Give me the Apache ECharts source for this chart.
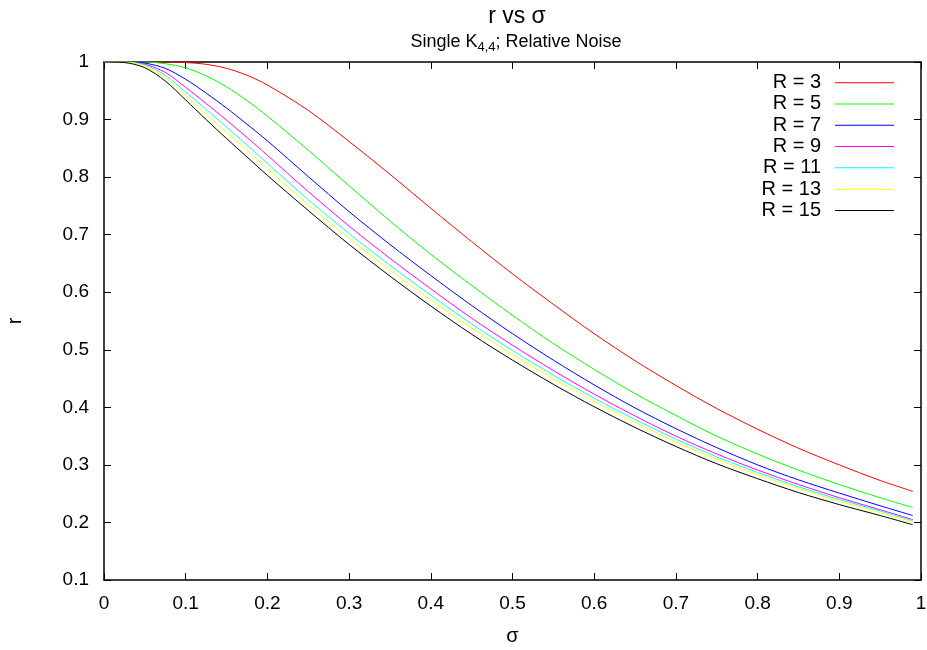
<!DOCTYPE html>
<html>
<head>
<meta charset="utf-8">
<script src="https://cdn.jsdelivr.net/npm/echarts@6/dist/echarts.min.js"></script>
<style>
html,body{margin:0;padding:0;background:#fff;}
#chart{width:927px;height:650px;}
</style>
</head>
<body>
<div id="chart"></div>
<script>
const sigma = [0, 0.025, 0.05, 0.075, 0.1, 0.125, 0.15, 0.175, 0.2, 0.25, 0.3, 0.35, 0.4, 0.45, 0.5, 0.55, 0.6, 0.65, 0.7, 0.75, 0.8, 0.85, 0.9, 0.95, 0.99];
const r3  = [1, 1, 1, 1, 0.999, 0.996, 0.989, 0.977, 0.960, 0.916, 0.862, 0.805, 0.746, 0.688, 0.632, 0.579, 0.528, 0.481, 0.438, 0.398, 0.362, 0.329, 0.300, 0.273, 0.254];
const r5  = [1, 1, 1, 0.997, 0.990, 0.976, 0.957, 0.933, 0.906, 0.847, 0.785, 0.724, 0.666, 0.612, 0.560, 0.511, 0.466, 0.424, 0.386, 0.350, 0.319, 0.291, 0.266, 0.243, 0.226];
const r7  = [1, 1, 0.998, 0.989, 0.970, 0.946, 0.920, 0.892, 0.863, 0.801, 0.740, 0.683, 0.629, 0.577, 0.528, 0.482, 0.439, 0.399, 0.363, 0.330, 0.300, 0.274, 0.251, 0.229, 0.212];
const r9  = [1, 1, 0.996, 0.982, 0.956, 0.928, 0.899, 0.869, 0.838, 0.775, 0.715, 0.659, 0.606, 0.555, 0.508, 0.464, 0.423, 0.385, 0.350, 0.319, 0.291, 0.266, 0.243, 0.222, 0.205];
const r11 = [1, 1, 0.995, 0.977, 0.948, 0.918, 0.887, 0.856, 0.824, 0.761, 0.702, 0.647, 0.595, 0.545, 0.499, 0.456, 0.416, 0.379, 0.345, 0.314, 0.287, 0.262, 0.240, 0.220, 0.203];
const r13 = [1, 1, 0.993, 0.973, 0.942, 0.910, 0.878, 0.847, 0.815, 0.752, 0.694, 0.639, 0.587, 0.538, 0.492, 0.450, 0.411, 0.374, 0.340, 0.310, 0.283, 0.259, 0.237, 0.217, 0.201];
const r15 = [1, 0.999, 0.990, 0.967, 0.934, 0.900, 0.867, 0.835, 0.803, 0.742, 0.683, 0.628, 0.576, 0.527, 0.482, 0.440, 0.401, 0.365, 0.332, 0.302, 0.276, 0.252, 0.231, 0.212, 0.196];
const seriesNames = ['R = 3', 'R = 5', 'R = 7', 'R = 9', 'R = 11', 'R = 13', 'R = 15'];
const seriesColors = ['#ff0000', '#00ff00', '#0000ff', '#ff00ff', '#00ffff', '#ffff00', '#000000'];
const seriesValues = [r3, r5, r7, r9, r11, r13, r15];

const FONT = '"Liberation Sans", Arial, Helvetica, sans-serif';
const chart = echarts.init(document.getElementById('chart'), null, {renderer: 'canvas'});

function axisBase(extra) {
  return Object.assign({
    type: 'value',
    axisLine: {show: true, onZero: false, lineStyle: {color: '#000', width: 1.5}},
    axisTick: {show: true, inside: true, length: 7, lineStyle: {color: '#000', width: 1}},
    splitLine: {show: false},
    axisLabel: {show: false}
  }, extra);
}

const option = {
  animation: false,
  backgroundColor: '#fff',
  title: [
    {text: 'r vs σ', left: 512, top: 0, textAlign: 'center',
     textStyle: {fontFamily: FONT, fontSize: 23, fontWeight: 'normal', color: '#000'}},
    {text: 'Single K{sub|4,4}; Relative Noise', left: 511, top: 25, textAlign: 'center',
     textStyle: {fontFamily: FONT, fontSize: 18, fontWeight: 'normal', color: '#000', lineHeight: 24,
       rich: {sub: {fontFamily: FONT, fontSize: 13, lineHeight: 12, verticalAlign: 'bottom', color: '#000'}}}}
  ],
  grid: {left: 104, right: 6, top: 62, bottom: 70, containLabel: false, outerBoundsMode: 'none'},
  legend: {
    orient: 'vertical', right: 33, top: 72, align: 'right', padding: 0,
    icon: 'rect', itemWidth: 59, itemHeight: 1, itemGap: 0,
    textStyle: {fontFamily: FONT, fontSize: 20, color: '#000', lineHeight: 21.3, padding: [0, 9, 0, 0]},
    data: seriesNames
  },
  xAxis: [
    axisBase({min: 0, max: 1, interval: 0.1, position: 'bottom',
      name: 'σ', nameLocation: 'middle', nameGap: 46,
      nameTextStyle: {fontFamily: FONT, fontSize: 20, color: '#000'},
      axisLabel: {show: true, margin: 14, fontFamily: FONT, fontSize: 19, color: '#000'}}),
    axisBase({min: 0, max: 1, interval: 0.1, position: 'top'})
  ],
  yAxis: [
    axisBase({min: 0.1, max: 1, interval: 0.1, position: 'left',
      name: 'r', nameLocation: 'middle', nameGap: 79, nameRotate: 90,
      nameTextStyle: {fontFamily: FONT, fontSize: 20, color: '#000'},
      axisLabel: {show: true, margin: 15, fontFamily: FONT, fontSize: 19, color: '#000'}}),
    axisBase({min: 0.1, max: 1, interval: 0.1, position: 'right'})
  ],
  series: seriesNames.map((name, i) => ({
    name: name,
    type: 'line',
    smooth: 0.3,
    symbol: 'none',
    xAxisIndex: 0,
    yAxisIndex: 0,
    color: seriesColors[i],
    lineStyle: {width: 1, color: seriesColors[i]},
    data: sigma.map((s, k) => [s, seriesValues[i][k]])
  }))
};
chart.setOption(option);
</script>
</body>
</html>
